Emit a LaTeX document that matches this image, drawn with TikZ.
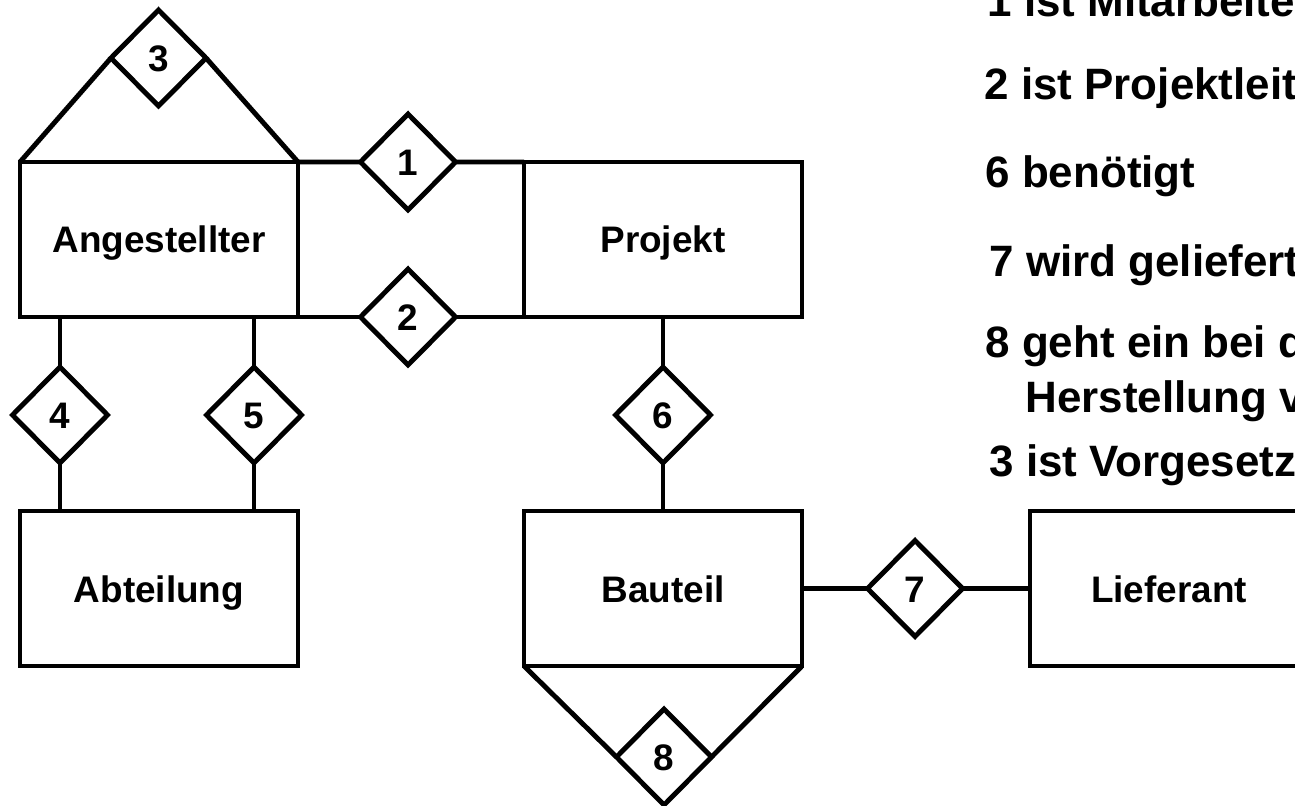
\documentclass[tikz,border=0pt]{standalone}
\usepackage{fontspec}
\setmainfont{Liberation Sans}
\usepackage{tikz}
\usetikzlibrary{shapes, shapes.geometric, calc}
\tikzstyle{entitaet} = [
    rectangle,
    minimum width = 5.56cm,
    minimum height = 3.1cm,
    inner sep = 0pt,
    outer sep = 0pt,
    text height = 0.54cm,
    text depth = 0cm,
    text centered,
    draw = black,
    line width = 2.8pt,
    font = \fontsize{21}{25}\selectfont\bfseries,
]
\tikzstyle{beziehung} = [
    diamond,
    minimum width = 1.9cm,
    minimum height = 1.92cm,
    inner sep = 0pt,
    outer sep = 0pt,
    text height = 0.54cm,
    text depth = 0cm,
    fill = white,
    draw = black,
    line width = 2.8pt,
    font = \fontsize{21}{25}\selectfont\bfseries,
]
\tikzstyle{legende} = [
    anchor = base west,
    inner sep = 0pt,
    font = \fontsize{25}{30}\selectfont\bfseries,
]

\begin{document}
\begin{tikzpicture} [line width = 2.8pt]
    \useasboundingbox (0,0) rectangle (25.9,-16.12);

    \node (angestellter) [entitaet] at (3.18,-4.79) {Angestellter};
    \node (projekt) [entitaet] at (13.26,-4.79) {Projekt};
    \node (abteilung) [entitaet] at (3.18,-11.77) {Abteilung};
    \node (bauteil) [entitaet] at (13.26,-11.77) {Bauteil};
    \node (lieferant) [entitaet] at (23.38,-11.77) {Lieferant};

    \node (r3) [beziehung] at (3.17,-1.16) {3};
    \node (r1) [beziehung] at (8.16,-3.24) {1};
    \node (r2) [beziehung] at (8.16,-6.34) {2};
    \node (r4) [beziehung] at (1.2,-8.3) {4};
    \node (r5) [beziehung] at (5.08,-8.3) {5};
    \node (r6) [beziehung] at (13.26,-8.3) {6};
    \node (r7) [beziehung] at (18.3,-11.77) {7};
    \node (r8) [beziehung] at (13.28,-15.14) {8};

    \draw[-] (angestellter.north west) -- (r3.west);
    \draw[-] (angestellter.north east) -- (r3.east);
    \draw[-] (angestellter.north east) -- (r1.west);
    \draw[-] (r1.east) -- (projekt.north west);
    \draw[-] (angestellter.south east) -- (r2.west);
    \draw[-] (r2.east) -- (projekt.south west);
    \draw[-] (angestellter.south -| r4) -- (r4.north);
    \draw[-] (r4.south) -- (abteilung.north -| r4);
    \draw[-] (angestellter.south -| r5) -- (r5.north);
    \draw[-] (r5.south) -- (abteilung.north -| r5);
    \draw[-] (projekt.south) -- (r6.north);
    \draw[-] (r6.south) -- (bauteil.north);
    \draw[-] (bauteil.east) -- (r7.west);
    \draw[-] (r7.east) -- (lieferant.west);
    \draw[-] (bauteil.south west) -- (r8.west);
    \draw[-] (bauteil.south east) -- (r8.east);

    \node (l1) [legende] at (19.7,-0.34) {1 ist Mitarbeiter};
    \node (l2) [legende] at (19.64,-2.0) {2 ist Projektleiter};
    \node (l6) [legende] at (19.66,-3.76) {6 benötigt};
    \node (l7) [legende] at (19.74,-5.54) {7 wird geliefert};
    \node (l8) [legende] at (19.66,-7.16) {8 geht ein bei der};
    \node (l8b) [legende] at (20.46,-8.26) {Herstellung von};
    \node (l3) [legende] at (19.74,-9.54) {3 ist Vorgesetzter};
\end{tikzpicture}
\end{document}
